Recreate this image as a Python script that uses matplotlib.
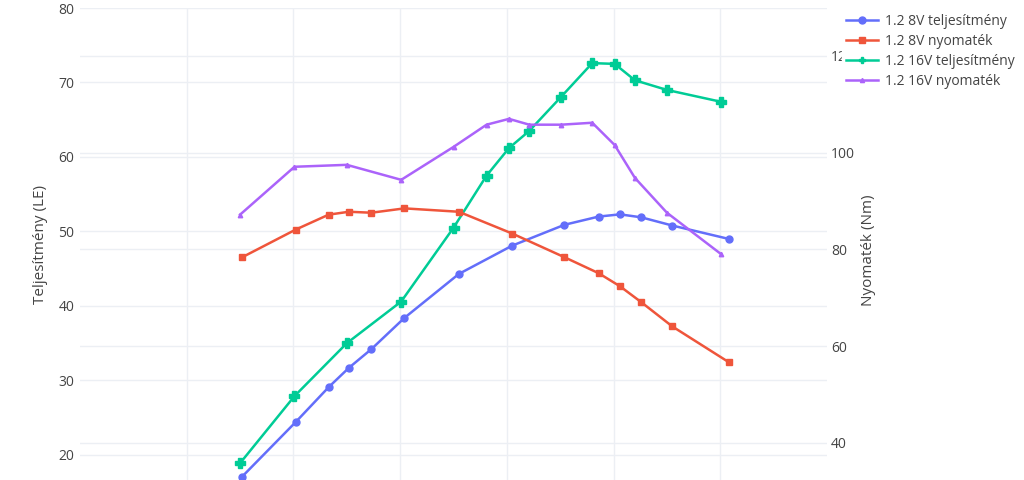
import matplotlib
matplotlib.use("Agg")
import matplotlib.pyplot as plt
from matplotlib.lines import Line2D
from matplotlib.transforms import blended_transform_factory

plt.rcParams['font.family'] = ['Open Sans', 'DejaVu Sans']

# Data (rpm, power in LE, torque in Nm)
rpm_8v = [1520, 2020, 2330, 2520, 2730, 3040, 3550, 4050, 4540, 4860, 5060, 5260, 5550, 6080]
power_8v = [17.1, 24.4, 29.1, 31.7, 34.2, 38.4, 44.3, 48.1, 50.9, 52.0, 52.3, 51.9, 50.8, 49.0]
torque_8v = [78.4, 84.1, 87.2, 87.8, 87.6, 88.5, 87.8, 83.3, 78.4, 75.1, 72.4, 69.1, 64.1, 56.7]

rpm_16v = [1500, 2010, 2500, 3010, 3500, 3810, 4020, 4210, 4510, 4800, 5010, 5200, 5500, 6010]
power_16v = [18.9, 27.9, 35.0, 40.6, 50.5, 57.5, 61.2, 63.5, 68.1, 72.6, 72.5, 70.3, 69.0, 67.4]
torque_16v = [87.2, 97.1, 97.5, 94.4, 101.2, 105.8, 107.0, 105.8, 105.8, 106.2, 101.6, 94.8, 87.6, 79.0]

labels = ["1.2 8V teljesítmény", "1.2 8V nyomaték", "1.2 16V teljesítmény", "1.2 16V nyomaték"]
colors = ["#636EFA", "#EF553B", "#00CC96", "#AB63FA"]
left_ticks = [20, 30, 40, 50, 60, 70, 80]
right_ticks = [40, 60, 80, 100, 120]
x_grid = [1000, 2000, 3000, 4000, 5000, 6000]

W, H = 1024, 480
fig = plt.figure(figsize=(W / 100, H / 100), dpi=100)
ax = fig.add_axes([80 / W, 0, (827 - 80) / W, (480 - 8) / H])
ax2 = ax.twinx()

grid_c = "#ECEFF4"
text_c = "#444444"

ax.set_xlim(0, 7000)
ax.set_ylim(16.64, 80)
ax2.set_ylim(32.35, 129.92)
ax.set_xticks(x_grid)
ax.set_yticks(left_ticks)
ax2.set_yticks(right_ticks)
ax.tick_params(axis='x', labelbottom=False, length=0)
ax.tick_params(axis='y', length=0, labelsize=10, colors=text_c, pad=4)
ax2.tick_params(axis='y', length=0, labelsize=10, colors=text_c, pad=3)
ax.grid(True, color=grid_c, linewidth=1, zorder=0)
ax2.grid(False)
ax.set_axisbelow(True)
# right-axis gridlines drawn on the bottom axes so they stay beneath all traces
tr = blended_transform_factory(ax.transAxes, ax2.transData)
for v in right_ticks:
    ax.add_line(Line2D([0, 1], [v, v], transform=tr, color=grid_c, linewidth=1, zorder=0.5))
for a in (ax, ax2):
    for s in a.spines.values():
        s.set_visible(False)
ax2.patch.set_visible(False)

ax.plot(rpm_8v, power_8v, color=colors[0], marker='o', markersize=5, linewidth=1.8, zorder=3)
ax2.plot(rpm_8v, torque_8v, color=colors[1], marker='s', markersize=5, linewidth=1.8, zorder=3)
ax.plot(rpm_16v, power_16v, color=colors[2], marker='P', markersize=6.5, linewidth=1.8, zorder=3)
ax2.plot(rpm_16v, torque_16v, color=colors[3], marker='^', markersize=3.2, linewidth=1.8, zorder=3)

fig.text(40 / W, 1 - 245 / H, "Teljesítmény (LE)", rotation=90, ha='center', va='center',
         fontsize=11, color=text_c)
fig.text(868 / W, 1 - 250 / H, "Nyomaték (Nm)", rotation=90, ha='center', va='center',
         fontsize=11, color=text_c)

handles = [
    Line2D([], [], color=colors[0], marker='o', markersize=5, linewidth=1.8),
    Line2D([], [], color=colors[1], marker='s', markersize=5, linewidth=1.8),
    Line2D([], [], color=colors[2], marker='P', markersize=5, linewidth=1.8),
    Line2D([], [], color=colors[3], marker='^', markersize=3, linewidth=1.8),
]
leg = fig.legend(handles, labels, loc='upper left', bbox_to_anchor=(842 / W, 1 - 10 / H),
                 frameon=True, facecolor='white', edgecolor='white', framealpha=1,
                 fontsize=10, labelcolor=text_c, handlelength=2.3, handletextpad=0.5,
                 labelspacing=0.35, borderpad=0.3, borderaxespad=0)

fig.savefig("out.png", dpi=100, facecolor='white')
